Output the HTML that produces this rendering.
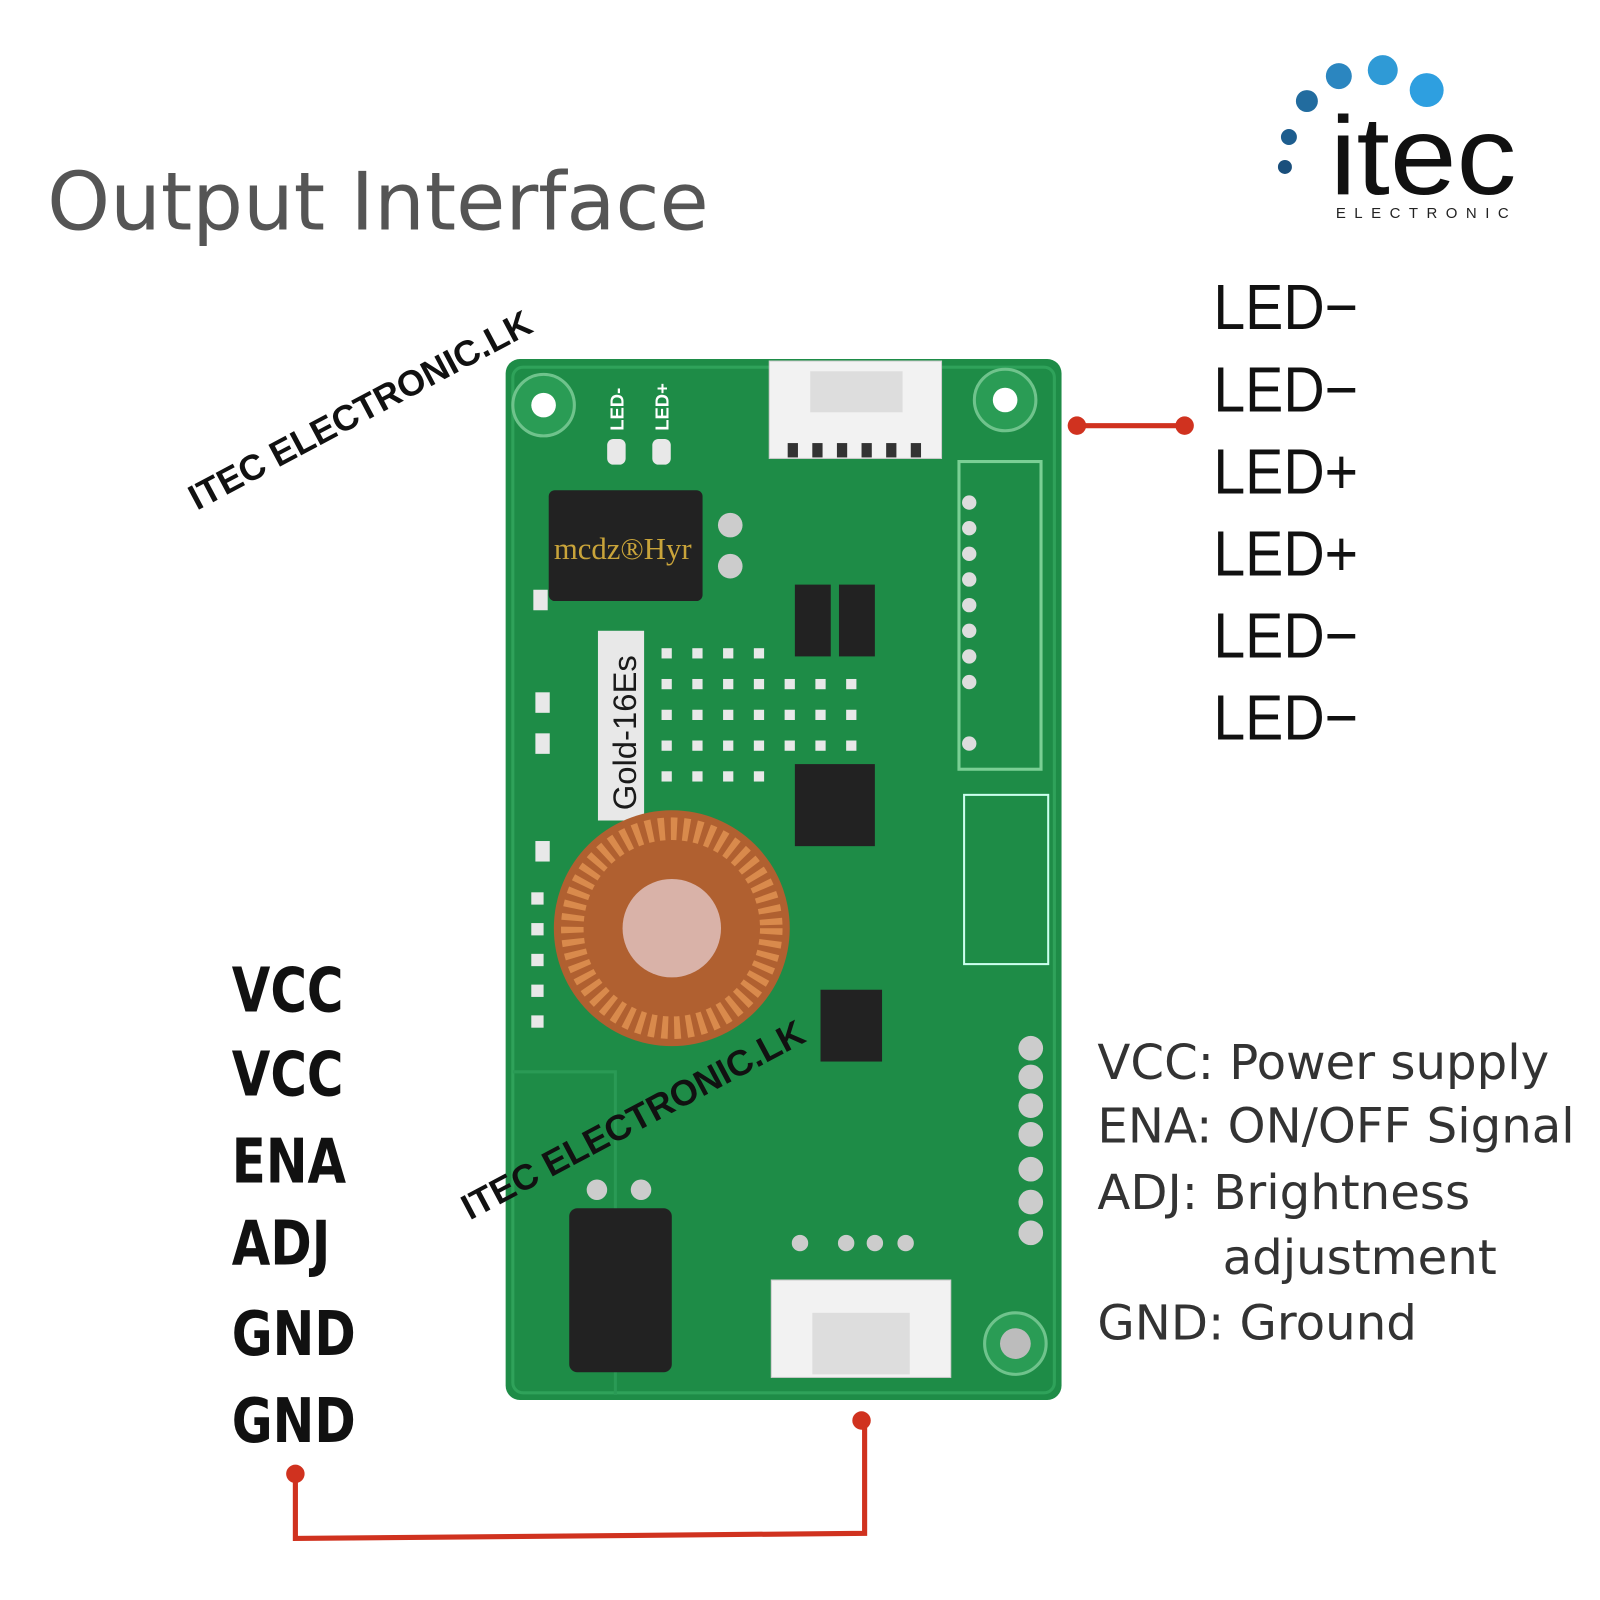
<!DOCTYPE html>
<html><head><meta charset="utf-8"><style>
html,body{margin:0;padding:0;background:#fff;width:1600px;height:1600px;overflow:hidden}
#w{position:absolute;left:0;top:0;width:1560px;height:1560px;transform:scale(1.02564);transform-origin:0 0;font-family:"Liberation Sans","DejaVu Sans",sans-serif}
.t{position:absolute;white-space:nowrap}
.led{font-size:62px;color:#111;left:1183px;line-height:1;transform:scaleX(0.9);transform-origin:0 0}
.pin{font-size:60px;color:#111;left:226px;line-height:1;font-family:"DejaVu Sans Condensed","DejaVu Sans",sans-serif;font-weight:bold;transform:scaleX(0.9);transform-origin:0 0}
.desc{font-size:47px;color:#333;left:1070px;line-height:1;font-family:"DejaVu Sans",sans-serif}
</style></head><body><div id="w">
<div class="t" style="left:46px;top:153px;font-size:78px;color:#555;font-family:'DejaVu Sans',sans-serif">Output Interface</div>
<!-- logo -->
<svg class="t" style="left:1209px;top:39px" width="292" height="195" viewBox="0 0 300 200">
<circle cx="45" cy="127" r="7" fill="#1a4f7c"/><circle cx="49" cy="97" r="8" fill="#1d5d8e"/>
<circle cx="67" cy="61" r="11" fill="#226c9f"/><circle cx="99" cy="36" r="13" fill="#2b86c0"/>
<circle cx="143" cy="30" r="15" fill="#2f9ad6"/><circle cx="187" cy="50" r="17" fill="#2e9fe0"/>
<text x="90" y="154" font-size="112" font-family="Liberation Sans" fill="#111" textLength="187" lengthAdjust="spacingAndGlyphs">itec</text>
<text x="96" y="178" font-size="15" font-family="Liberation Sans" fill="#222" letter-spacing="8.5">ELECTRONIC</text>
</svg>
<div class="t led" style="top:270px">LED−</div>
<div class="t led" style="top:350px">LED−</div>
<div class="t led" style="top:430px">LED+</div>
<div class="t led" style="top:510px">LED+</div>
<div class="t led" style="top:590px">LED−</div>
<div class="t led" style="top:670px">LED−</div>
<div class="t pin" style="top:936px">VCC</div>
<div class="t pin" style="top:1018px">VCC</div>
<div class="t pin" style="top:1103px">ENA</div>
<div class="t pin" style="top:1183px">ADJ</div>
<div class="t pin" style="top:1271px">GND</div>
<div class="t pin" style="top:1356px">GND</div>
<div class="t desc" style="top:1013px">VCC: Power supply</div>
<div class="t desc" style="top:1075px">ENA: ON/OFF Signal</div>
<div class="t desc" style="top:1140px">ADJ: Brightness</div>
<div class="t desc" style="top:1203px;left:1192px">adjustment</div>
<div class="t desc" style="top:1267px">GND: Ground</div>
<svg class="t" style="left:0;top:0" width="1560" height="1560">
<!-- board -->
<rect x="493" y="350" width="542" height="1015" rx="14" fill="#1e8c47"/>
<rect x="500" y="358" width="528" height="1000" rx="10" fill="none" stroke="#2fa25a" stroke-width="3"/>
<path d="M500 1045 H600 V1360" fill="none" stroke="#2a9a55" stroke-width="3"/>
<circle cx="530" cy="395" r="30" fill="#2a9c55" stroke="#6fc38c" stroke-width="3"/><circle cx="530" cy="395" r="12" fill="#fff"/>
<circle cx="980" cy="390" r="30" fill="#2a9c55" stroke="#6fc38c" stroke-width="3"/><circle cx="980" cy="390" r="12" fill="#fff"/>
<circle cx="990" cy="1310" r="30" fill="#2a9c55" stroke="#6fc38c" stroke-width="3"/><circle cx="990" cy="1310" r="15" fill="#bcbcbc"/>
<g fill="#e8e8e8"><rect x="592" y="428" width="18" height="25" rx="6"/><rect x="636" y="428" width="18" height="25" rx="6"/></g>
<text x="608" y="420" font-size="18" fill="#fff" font-weight="bold" transform="rotate(-90 608 420)">LED-</text>
<text x="652" y="420" font-size="18" fill="#fff" font-weight="bold" transform="rotate(-90 652 420)">LED+</text>
<!-- top connector -->
<rect x="750" y="352" width="168" height="95" fill="#f2f2f2" stroke="#ccc"/>
<rect x="790" y="362" width="90" height="40" fill="#ddd"/>
<g fill="#333"><rect x="768" y="432" width="10" height="14"/><rect x="792" y="432" width="10" height="14"/><rect x="816" y="432" width="10" height="14"/><rect x="840" y="432" width="10" height="14"/><rect x="864" y="432" width="10" height="14"/><rect x="888" y="432" width="10" height="14"/></g>
<rect x="935" y="450" width="80" height="300" fill="none" stroke="#7bcf95" stroke-width="3"/>
<g fill="#ddd"><circle cx="945" cy="490" r="7"/><circle cx="945" cy="515" r="7"/><circle cx="945" cy="540" r="7"/><circle cx="945" cy="565" r="7"/><circle cx="945" cy="590" r="7"/><circle cx="945" cy="615" r="7"/><circle cx="945" cy="640" r="7"/><circle cx="945" cy="665" r="7"/><circle cx="945" cy="725" r="7"/></g>
<!-- capacitor top -->
<rect x="535" y="478" width="150" height="108" rx="6" fill="#222"/>
<text x="540" y="545" font-size="30" fill="#c9a43a" font-family="Liberation Serif">mcdz®Hyr</text>
<circle cx="712" cy="512" r="12" fill="#ccc"/><circle cx="712" cy="552" r="12" fill="#ccc"/>
<rect x="583" y="615" width="45" height="185" fill="#e8e8e8"/>
<text x="620" y="790" font-size="32" fill="#1a1a1a" transform="rotate(-90 620 790)">Gold-16Es</text>
<g fill="#e8e8e8">
<rect x="645" y="632" width="10" height="10"/><rect x="675" y="632" width="10" height="10"/><rect x="705" y="632" width="10" height="10"/><rect x="735" y="632" width="10" height="10"/>
<rect x="645" y="662" width="10" height="10"/><rect x="675" y="662" width="10" height="10"/><rect x="705" y="662" width="10" height="10"/><rect x="735" y="662" width="10" height="10"/><rect x="765" y="662" width="10" height="10"/><rect x="795" y="662" width="10" height="10"/><rect x="825" y="662" width="10" height="10"/>
<rect x="645" y="692" width="10" height="10"/><rect x="675" y="692" width="10" height="10"/><rect x="705" y="692" width="10" height="10"/><rect x="735" y="692" width="10" height="10"/><rect x="765" y="692" width="10" height="10"/><rect x="795" y="692" width="10" height="10"/><rect x="825" y="692" width="10" height="10"/>
<rect x="645" y="722" width="10" height="10"/><rect x="675" y="722" width="10" height="10"/><rect x="705" y="722" width="10" height="10"/><rect x="735" y="722" width="10" height="10"/><rect x="765" y="722" width="10" height="10"/><rect x="795" y="722" width="10" height="10"/><rect x="825" y="722" width="10" height="10"/>
<rect x="645" y="752" width="10" height="10"/><rect x="675" y="752" width="10" height="10"/><rect x="705" y="752" width="10" height="10"/><rect x="735" y="752" width="10" height="10"/>
<rect x="520" y="575" width="14" height="20"/><rect x="522" y="675" width="14" height="20"/><rect x="522" y="715" width="14" height="20"/><rect x="522" y="820" width="14" height="20"/>
<rect x="518" y="870" width="12" height="12"/><rect x="518" y="900" width="12" height="12"/><rect x="518" y="930" width="12" height="12"/><rect x="518" y="960" width="12" height="12"/><rect x="518" y="990" width="12" height="12"/>
</g>
<rect x="775" y="570" width="35" height="70" fill="#222"/><rect x="818" y="570" width="35" height="70" fill="#222"/>
<rect x="775" y="745" width="78" height="80" fill="#222"/>
<rect x="940" y="775" width="82" height="165" fill="none" stroke="#cfe" stroke-width="2"/>
<!-- toroid -->
<circle cx="655" cy="905" r="115" fill="#b06030"/>
<circle cx="655" cy="905" r="97" fill="none" stroke="#d98a4c" stroke-width="22" stroke-dasharray="6 6"/>
<circle cx="655" cy="905" r="48" fill="#d9b2a8"/>
<rect x="800" y="965" width="60" height="70" fill="#222"/>
<g fill="#ccc"><circle cx="1005" cy="1022" r="12"/><circle cx="1005" cy="1050" r="12"/><circle cx="1005" cy="1078" r="12"/><circle cx="1005" cy="1106" r="12"/><circle cx="1005" cy="1140" r="12"/><circle cx="1005" cy="1172" r="12"/><circle cx="1005" cy="1202" r="12"/></g>
<g fill="#ccc"><circle cx="780" cy="1212" r="8"/><circle cx="825" cy="1212" r="8"/><circle cx="853" cy="1212" r="8"/><circle cx="883" cy="1212" r="8"/></g>
<!-- bottom capacitor -->
<rect x="555" y="1178" width="100" height="160" rx="8" fill="#222"/>
<circle cx="582" cy="1160" r="10" fill="#ccc"/><circle cx="625" cy="1160" r="10" fill="#ccc"/>
<!-- bottom connector -->
<rect x="752" y="1248" width="175" height="95" fill="#f2f2f2" stroke="#ccc"/>
<rect x="792" y="1280" width="95" height="60" fill="#ddd"/>
<!-- red connectors -->
<g stroke="#d0321f" stroke-width="5" fill="none"><line x1="1050" y1="415" x2="1153" y2="415"/><polyline points="288,1437 288,1500 843,1495 843,1385"/></g>
<g fill="#d0321f"><circle cx="1050" cy="415" r="9"/><circle cx="1155" cy="415" r="9"/><circle cx="288" cy="1437" r="9"/><circle cx="840" cy="1385" r="9"/></g>
<text x="192" y="498" font-size="35" font-weight="bold" fill="#111" transform="rotate(-28 192 498)">ITEC ELECTRONIC.LK</text>
<text x="458" y="1190" font-size="35" font-weight="bold" fill="#111" transform="rotate(-28 458 1190)">ITEC ELECTRONIC.LK</text>
</svg>
</div></body></html>
